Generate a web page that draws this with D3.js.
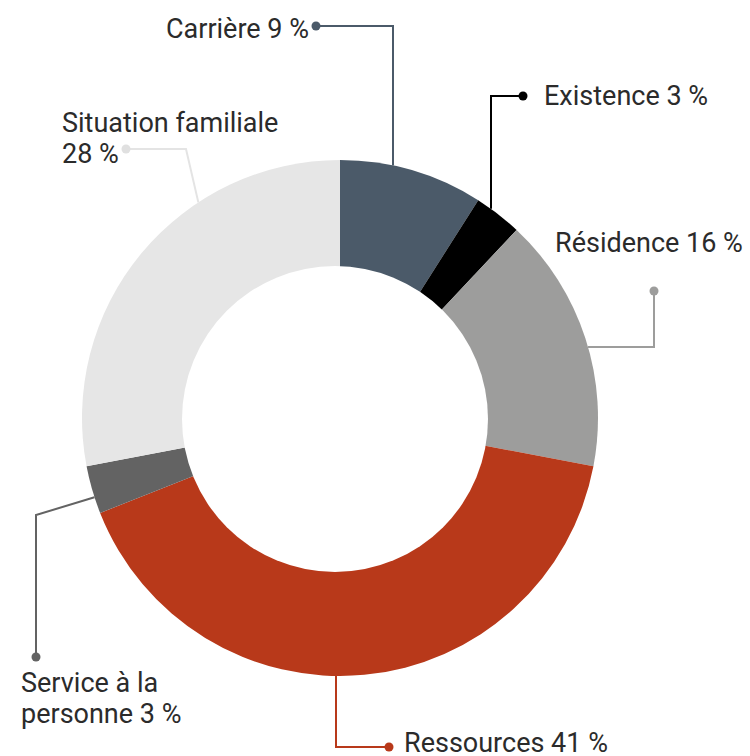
<!DOCTYPE html>
<html><head><meta charset="utf-8">
<script src="https://cdn.jsdelivr.net/npm/d3@7"></script>
<style>html,body{margin:0;padding:0;background:#fff}</style>
</head><body><svg id="chart" width="750" height="756"></svg>
<script>
// Data
const categories = ["Carrière", "Existence", "Résidence", "Ressources", "Service à la personne", "Situation familiale"];
const values = [9, 3, 16, 41, 3, 28];
const labelLines = [["Carrière 9 %"], ["Existence 3 %"], ["Résidence 16 %"], ["Ressources 41 %"], ["Service à la", "personne 3 %"], ["Situation familiale", "28 %"]];
const colors = ["#4b5a69", "#000000", "#9d9d9c", "#b8391a", "#636363", "#e6e6e6"];

// Layout for callouts (annotation geometry)
const cx = 340, cy = 418, R = 258;
const holeCx = 335, holeCy = 419, holeR = 153;
const callouts = [
  {dot:[316,26], elbow:[393,26], mode:"vx", text:[309,38], anchor:"end"},
  {dot:[523,96], elbow:[491,96], mode:"vx", text:[544,105], anchor:"start"},
  {dot:[654,291], elbow:[654,347], mode:"hy", text:[555,252], anchor:"start"},
  {dot:[389,747], elbow:[336,747], mode:"vx", text:[404,752], anchor:"start"},
  {dot:[36,657], elbow:[36,515], mode:"ang", ang:252.1, text:[21,692], anchor:"start"},
  {dot:[126,149], elbow:[186,149], mode:"ang", ang:326.7, text:[62,132], anchor:"start"}
];

const svg = d3.select("#chart");
const g = svg.append("g").attr("transform", `translate(${cx},${cy})`);
const pie = d3.pie().sort(null).value(d => d)(values);
const arc = d3.arc().innerRadius(0).outerRadius(R);
g.selectAll("path.slice").data(pie).enter().append("path")
  .attr("class","slice").attr("d", arc).attr("fill", (d,i) => colors[i]);
svg.append("circle").attr("cx", holeCx).attr("cy", holeCy).attr("r", holeR).attr("fill", "#fff");

function arcPoint(c) {
  const [ex, ey] = c.elbow;
  if (c.mode === "vx") {
    const dx = ex - cx; const dy = Math.sqrt(R*R - dx*dx);
    return [ex, c.dot[1] < cy ? cy - dy : cy + dy];
  } else if (c.mode === "hy") {
    const dy = ey - cy; const dx = Math.sqrt(R*R - dy*dy);
    return [c.dot[0] > cx ? cx + dx : cx - dx, ey];
  } else {
    const a = c.ang * Math.PI / 180;
    return [cx + R*Math.sin(a), cy - R*Math.cos(a)];
  }
}

const line = d3.line();
callouts.forEach((c, i) => {
  const col = colors[i];
  const stroke = i === 5 ? "#e4e4e4" : col;
  const end = arcPoint(c);
  svg.append("path").attr("d", line([c.dot, c.elbow, end]))
    .attr("fill","none").attr("stroke", stroke).attr("stroke-width", 2);
  svg.append("circle").attr("cx", c.dot[0]).attr("cy", c.dot[1]).attr("r", 4.5).attr("fill", i === 5 ? "#e0e0e0" : col);
  const t = svg.append("text").attr("x", c.text[0]).attr("y", c.text[1])
    .attr("text-anchor", c.anchor)
    .attr("font-family", "Roboto, sans-serif").attr("font-size", 27).attr("fill", "#2b2b2b");
  labelLines[i].forEach((ln, j) => {
    t.append("tspan").attr("x", c.text[0]).attr("dy", j === 0 ? 0 : 31).text(ln);
  });
});
</script></body></html>
